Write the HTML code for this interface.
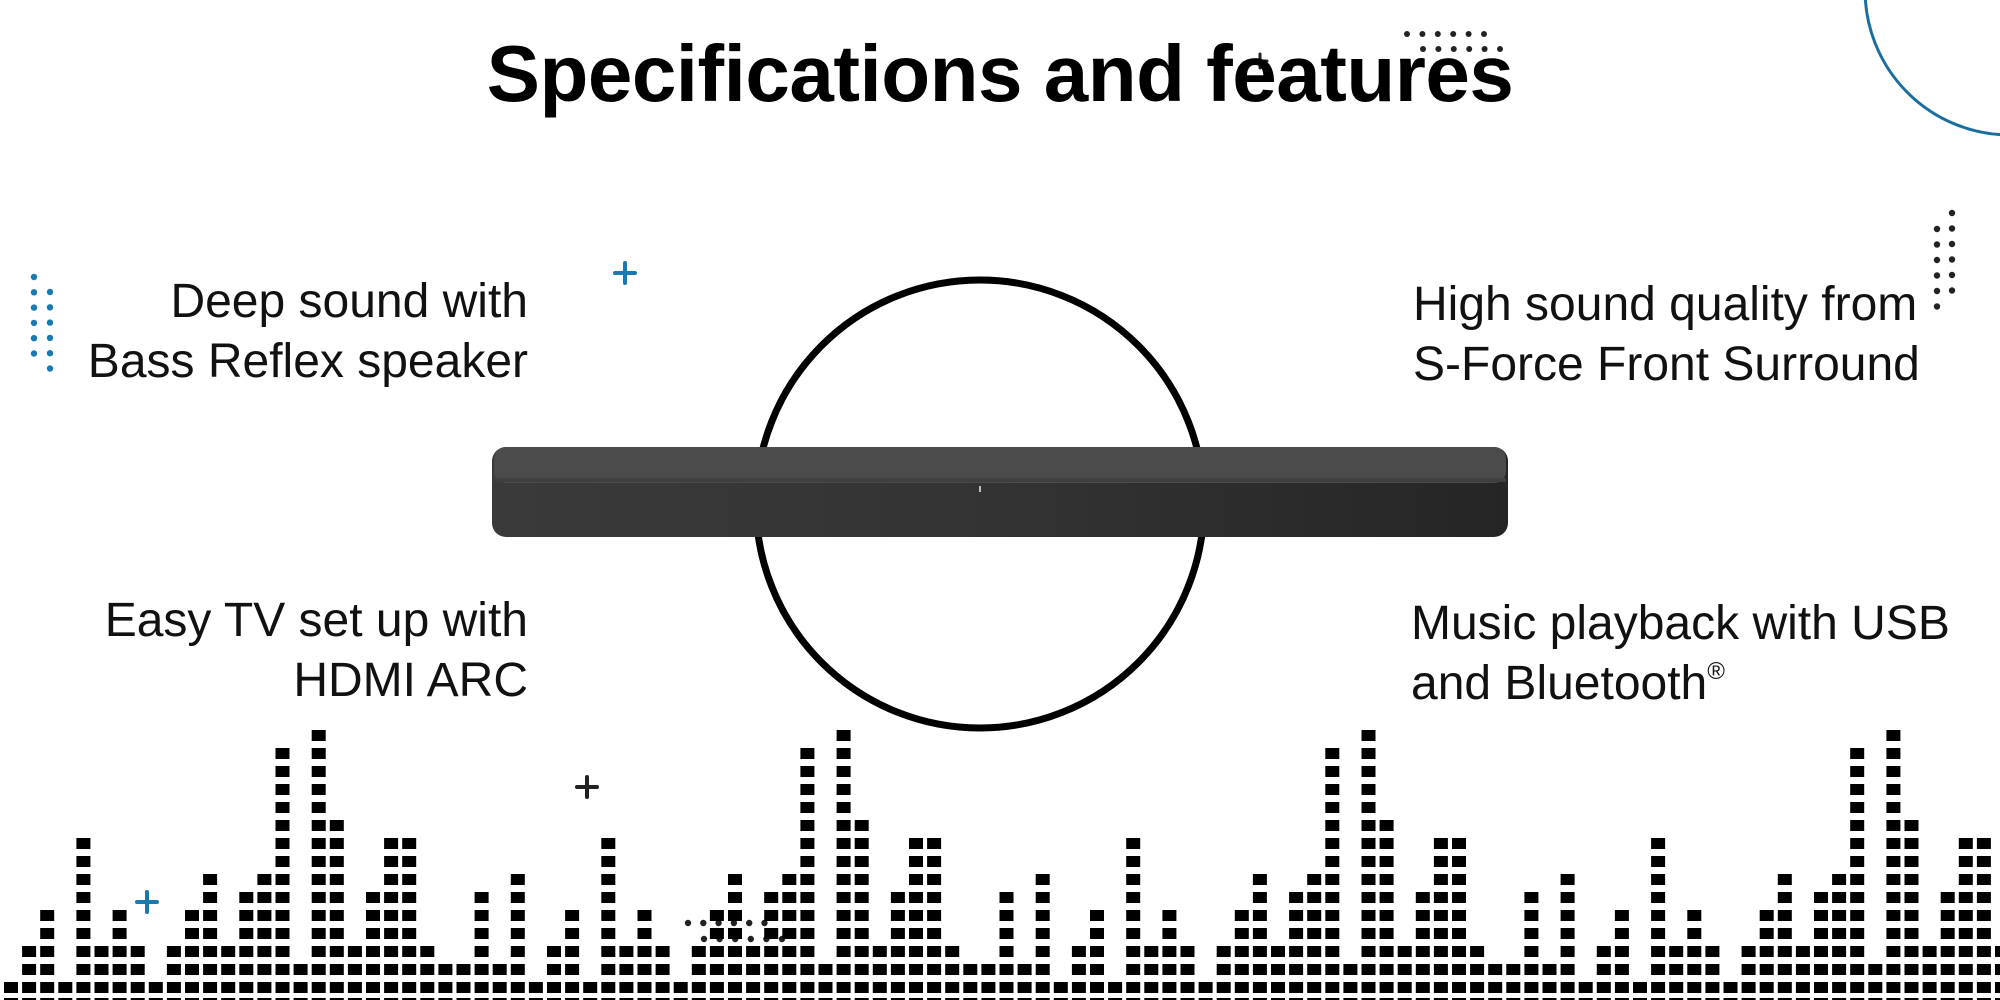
<!DOCTYPE html>
<html><head><meta charset="utf-8">
<style>
html,body{margin:0;padding:0;background:#fff;}
body{width:2000px;height:1000px;position:relative;overflow:hidden;font-family:"Liberation Sans",sans-serif;}
.t{position:absolute;color:#111;font-size:48px;line-height:60px;white-space:nowrap;}
.title{position:absolute;left:0;width:2000px;text-align:center;top:28px;font-size:80px;font-weight:bold;color:#000;letter-spacing:-0.5px;}
svg{position:absolute;left:0;top:0;}
.sup{font-size:24px;position:relative;top:-20px;}
</style></head><body>
<svg id="s" width="2000" height="1000" viewBox="0 0 2000 1000">
 <circle cx="2010" cy="-10" r="145" fill="none" stroke="#1a6fa0" stroke-width="3"/>
 <circle cx="980" cy="504" r="224" fill="none" stroke="#000" stroke-width="7"/>
 <defs>
  <linearGradient id="fr" x1="0" x2="1" y1="0" y2="0">
   <stop offset="0" stop-color="#3a3a3a"/><stop offset="0.5" stop-color="#333"/><stop offset="1" stop-color="#252525"/>
  </linearGradient>
 </defs>
 <rect x="492" y="447" width="1016" height="90" rx="14" fill="url(#fr)"/>
 <rect x="494" y="447" width="1012" height="36" rx="12" fill="#4b4b4b"/>
 <rect x="494" y="478" width="1012" height="4" fill="#3f3f3f"/>
 <rect x="979" y="486" width="2" height="6" fill="#bbb"/>
 <g fill="#1a7ab0" id="bd"></g>
 <g fill="#222" id="dd"></g>
 <g fill="#000" id="eq"></g>
 <g stroke-linecap="round">
  <path d="M625 263v20M615 273h20" stroke="#1a7ab0" stroke-width="4"/>
  <path d="M147 892v20M137 902h20" stroke="#1a7ab0" stroke-width="4"/>
  <path d="M587 777v20M577 787h20" stroke="#222" stroke-width="4"/>
  <path d="M1260 54v14M1253 61h14" stroke="#222" stroke-width="3"/>
 </g>
</svg>
<div class="title">Specifications and features</div>
<div class="t" style="right:1472px;top:272px;text-align:right;">Deep sound with<br>Bass Reflex speaker</div>
<div class="t" style="right:1472px;top:591px;text-align:right;">Easy TV set up with<br>HDMI ARC</div>
<div class="t" style="left:1413px;top:275px;">High sound quality from<br>S-Force Front Surround</div>
<div class="t" style="left:1411px;top:594px;">Music playback with USB<br>and Bluetooth<span class="sup">®</span></div>
<script>
(function(){
 var NS="http://www.w3.org/2000/svg";
 function el(g,tag,a){var e=document.createElementNS(NS,tag);for(var k in a)e.setAttribute(k,a[k]);g.appendChild(e);}
 var eq=document.getElementById('eq');
 var H=[1,3,5,1,9,3,5,3,1,3,5,7,3,6,7,14,2,15,10,3,6,9,9,3,2,2,6,2,7];
 for(var i=0;i<111;i++){
  var x=4+18.1*i;
  var h=H[i%29];
  for(var j=0;j<h;j++) el(eq,'rect',{x:x.toFixed(1),y:982-18*j,width:14,height:11});
  el(eq,'rect',{x:x.toFixed(1),y:998,width:14,height:11});
 }
 var dd=document.getElementById('dd');
 var bd=document.getElementById('bd');
 var k;
 for(k=0;k<6;k++){el(dd,'circle',{cx:1407+15.4*k,cy:34,r:3});el(dd,'circle',{cx:1423+15.4*k,cy:49,r:3});}
 for(k=0;k<6;k++){el(dd,'circle',{cx:1952,cy:213+15.5*k,r:3.2});el(dd,'circle',{cx:1937,cy:229+15.5*k,r:3.2});}
 for(k=0;k<6;k++){el(bd,'circle',{cx:34,cy:277+15.3*k,r:3.2});el(bd,'circle',{cx:50,cy:292+15.3*k,r:3.2});}
 for(k=0;k<6;k++){el(dd,'circle',{cx:688+15.3*k,cy:923,r:3.2});el(dd,'circle',{cx:704+15.6*k,cy:939,r:3.2});}
})();
</script>
</body></html>
